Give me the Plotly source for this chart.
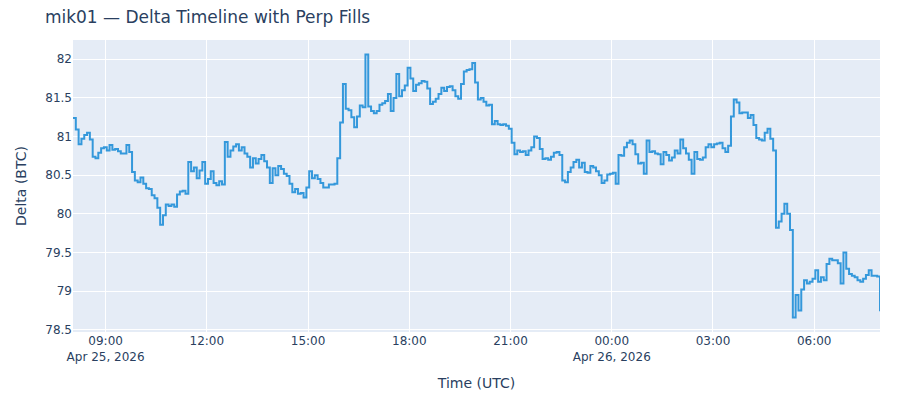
import pandas as pd
import plotly.graph_objects as go

# net delta (BTC), one reading every 5 minutes from Apr 25 08:02 UTC
start_time = "2026-04-25 08:02"
delta = [
    81.24, 81.09, 80.90, 80.97, 81.02, 81.05, 80.96, 80.74, 80.72, 80.79,
    80.85, 80.86, 80.82, 80.89, 80.83, 80.84, 80.81, 80.78, 80.78, 80.89,
    80.80, 80.54, 80.43, 80.41, 80.47, 80.39, 80.33, 80.32, 80.24, 80.20,
    80.08, 79.86, 79.98, 80.12, 80.10, 80.12, 80.09, 80.25, 80.29, 80.30,
    80.26, 80.67, 80.55, 80.60, 80.46, 80.56, 80.67, 80.39, 80.45, 80.55,
    80.40, 80.37, 80.42, 80.38, 80.93, 80.74, 80.82, 80.87, 80.90, 80.82,
    80.86, 80.78, 80.74, 80.60, 80.72, 80.65, 80.71, 80.76, 80.68, 80.60,
    80.40, 80.59, 80.50, 80.62, 80.58, 80.52, 80.49, 80.39, 80.28, 80.32,
    80.26, 80.27, 80.21, 80.34, 80.55, 80.46, 80.50, 80.45, 80.40, 80.34,
    80.34, 80.38, 80.38, 80.39, 80.72, 81.18, 81.68, 81.36, 81.34, 81.25,
    81.12, 81.26, 81.40, 81.38, 82.06, 81.39, 81.33, 81.30, 81.33, 81.41,
    81.43, 81.46, 81.55, 81.33, 81.50, 81.81, 81.52, 81.60, 81.66, 81.89,
    81.75, 81.59, 81.67, 81.69, 81.72, 81.71, 81.62, 81.42, 81.45, 81.49,
    81.55, 81.63, 81.59, 81.64, 81.65, 81.60, 81.52, 81.49, 81.68, 81.84,
    81.86, 81.87, 81.95, 81.70, 81.48, 81.50, 81.45, 81.40, 81.41, 81.16,
    81.20, 81.16, 81.15, 81.16, 81.14, 81.10, 80.92, 80.77, 80.82, 80.80,
    80.81, 80.76, 80.82, 80.86, 81.00, 80.98, 80.84, 80.71, 80.72, 80.70,
    80.74, 80.79, 80.80, 80.76, 80.43, 80.41, 80.54, 80.60, 80.67, 80.70,
    80.60, 80.66, 80.54, 80.53, 80.62, 80.60, 80.55, 80.50, 80.40, 80.43,
    80.51, 80.52, 80.53, 80.39, 80.76, 80.75, 80.86, 80.92, 80.95, 80.90,
    80.77, 80.65, 80.66, 80.52, 80.95, 80.80, 80.81, 80.78, 80.77, 80.64,
    80.80, 80.76, 80.69, 80.73, 80.82, 80.78, 80.96, 80.85, 80.78, 80.70,
    80.52, 80.80, 80.71, 80.70, 80.73, 80.86, 80.90, 80.86, 80.90, 80.91,
    80.92, 80.85, 80.80, 80.88, 81.26, 81.48, 81.44, 81.30, 81.31, 81.31,
    81.24, 81.28, 81.15, 80.98, 80.96, 80.95, 81.05, 81.10, 80.97, 80.82,
    79.82, 79.90, 80.00, 80.13, 80.00, 79.79, 78.66, 78.95, 78.75, 79.02,
    79.14, 79.10, 79.12, 79.16, 79.27, 79.12, 79.18, 79.14, 79.35, 79.42,
    79.40, 79.40, 79.36, 79.10, 79.50, 79.29, 79.22, 79.20, 79.18, 79.14,
    79.12, 79.16, 79.21, 79.27, 79.20, 79.20, 79.19, 78.74,
]

times = pd.date_range(start_time, periods=len(delta), freq="5min")

fig = go.Figure()
fig.add_trace(go.Scatter(x=times, y=delta, mode="lines",
                         line=dict(color="#3498db", width=2, shape="hv"),
                         name="Delta"))
fig.update_layout(
    template="plotly",
    width=900, height=400,
    font=dict(family="DejaVu Sans"),
    title=dict(text="mik01 — Delta Timeline with Perp Fills",
               x=0.041, xanchor="left", y=0.9775, yanchor="middle",
               font=dict(size=17)),
    xaxis_title="Time (UTC)",
    yaxis_title="Delta (BTC)",
    showlegend=False,
    # page body adds an 8px offset, so margins are shifted to compensate
    margin=dict(l=57, r=28, t=32, b=76),
)
fig.write_html("out.html")
